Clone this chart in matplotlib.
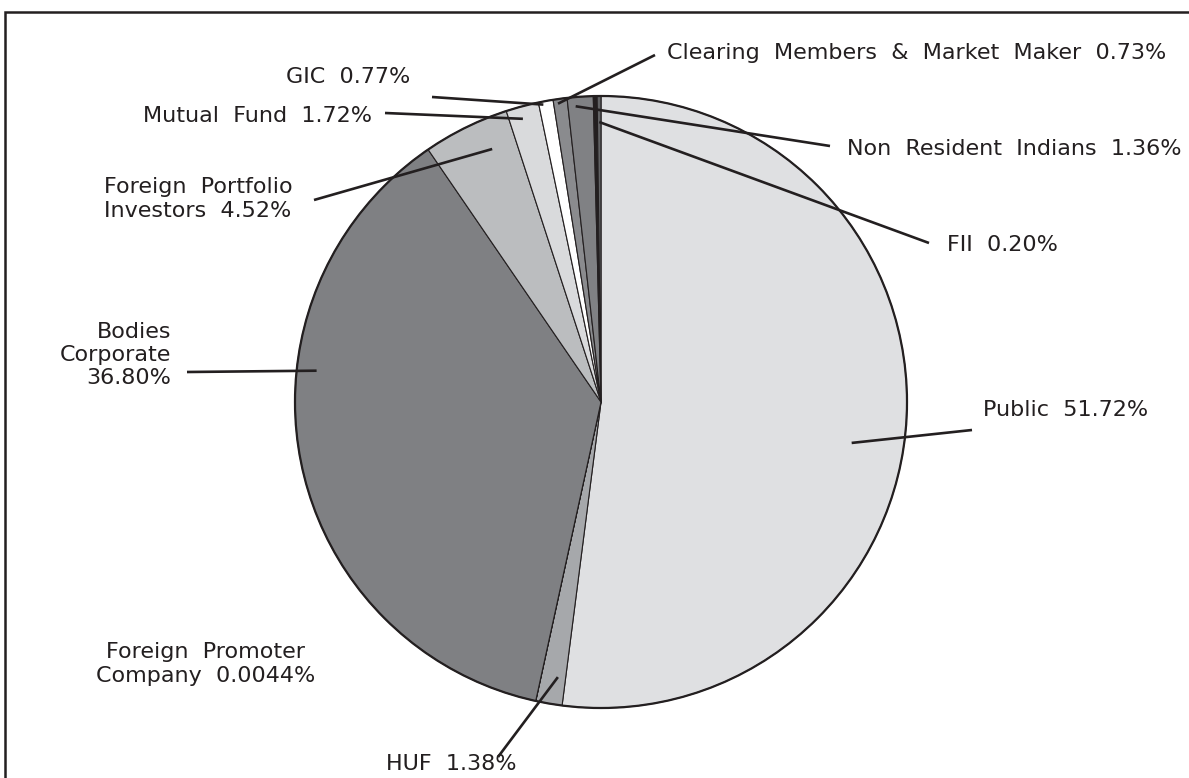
import matplotlib.pyplot as plt
import numpy as np

W, H = 1189, 778
ink = '#231f20'

# shareholding, clockwise from 12 o'clock
categories = ['Public', 'HUF', 'Foreign Promoter Company', 'Bodies Corporate',
              'Foreign Portfolio Investors', 'Mutual Fund', 'GIC',
              'Clearing Members & Market Maker', 'Non Resident Indians', '', 'FII']
shares = [51.72, 1.38, 0.0044, 36.80, 4.52, 1.72, 0.77, 0.73, 1.36, 0.20, 0.20]
colors = ['#dfe0e2', '#a6a8ab', '#ffffff', '#7f8083', '#bbbdbf', '#d9dadc',
          '#ffffff', '#8a8b8e', '#808184', ink, '#626365']

label_texts = ['Public  51.72%', 'HUF  1.38%', 'Foreign  Promoter\nCompany  0.0044%',
               'Bodies\nCorporate\n36.80%', 'Foreign  Portfolio\nInvestors  4.52%',
               'Mutual  Fund  1.72%', 'GIC  0.77%',
               'Clearing  Members  &  Market  Maker  0.73%',
               'Non  Resident  Indians  1.36%', '', 'FII  0.20%']

# layout: text xy (px, y down), ha, leader outer end (px) or None,
# leader inner end as (fraction along wedge, fraction of radius)
layout = [
    ((983, 410), 'left', (972, 430), (0.53, 0.83)),
    ((451, 764), 'center', (498, 757), (0.32, 0.91)),
    ((206, 664), 'center', None, None),
    ((171, 355), 'right', (187, 372), (0.63, 0.935)),
    ((104, 199), 'left', (314, 200), (0.68, 0.90)),
    ((372, 116), 'right', (385, 113), (0.42, 0.96)),
    ((348, 77), 'center', (432, 97), (0.30, 0.99)),
    ((667, 53), 'left', (655, 55), (0.31, 0.985)),
    ((847, 149), 'left', (830, 146), (0.30, 0.97)),
    None,
    ((947, 245), 'left', (929, 243), (0.50, 0.915)),
]

cx, cy, R = 601, H - 402, 306

fig = plt.figure(figsize=(W / 100, H / 100), dpi=100)
ax = fig.add_axes([0, 0, 1, 1])

wedges, _ = ax.pie(shares, colors=colors, startangle=90, counterclock=False,
                   center=(cx, cy), radius=R,
                   wedgeprops=dict(edgecolor=ink, linewidth=0.8))
ax.add_patch(plt.Circle((cx, cy), R, fill=False, ec=ink, lw=1.6, zorder=3))

for w, txt, lay in zip(wedges, label_texts, layout):
    if lay is None:
        continue
    (tx, ty), ha, outer, inner = lay
    ax.text(tx, H - ty, txt, ha=ha, va='center', multialignment=ha,
            fontsize=16, color=ink, linespacing=1.2, family='DejaVu Sans')
    if outer is None:
        continue
    t, rf = inner
    ang = np.deg2rad(w.theta2 - t * (w.theta2 - w.theta1))
    ix, iy = cx + rf * R * np.cos(ang), cy + rf * R * np.sin(ang)
    ax.plot([outer[0], ix], [H - outer[1], iy], color=ink, lw=1.9,
            solid_capstyle='butt', zorder=4)

# frame around the chart
ax.plot([5, 5, W + 5], [-5, H - 12, H - 12], color=ink, lw=1.8,
        solid_joinstyle='miter', clip_on=False)

ax.set_xlim(0, W)
ax.set_ylim(0, H)
ax.set_aspect('equal')
ax.axis('off')

fig.savefig('out.png', dpi=100)
